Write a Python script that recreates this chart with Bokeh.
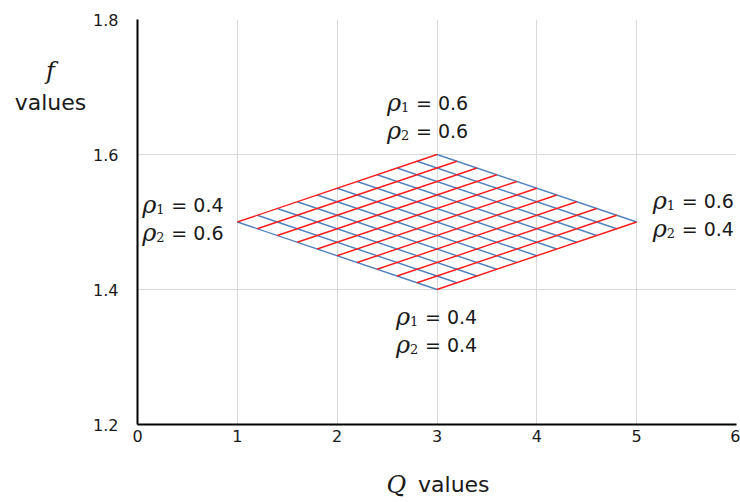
from bokeh.plotting import figure
from bokeh.layouts import row, column
from bokeh.models import ColumnDataSource, FixedTicker, Range1d
from bokeh.core.properties import value
from bokeh.embed import file_html
from bokeh.resources import INLINE

# ---------------- data ----------------
# red lines: constant rho2 (0.40 .. 0.60), running from rho1 = 0.4 to rho1 = 0.6
red_q_start = [3.0, 2.8, 2.6, 2.4, 2.2, 2.0, 1.8, 1.6, 1.4, 1.2, 1.0]
red_f_start = [1.40, 1.41, 1.42, 1.43, 1.44, 1.45, 1.46, 1.47, 1.48, 1.49, 1.50]
red_q_end = [5.0, 4.8, 4.6, 4.4, 4.2, 4.0, 3.8, 3.6, 3.4, 3.2, 3.0]
red_f_end = [1.50, 1.51, 1.52, 1.53, 1.54, 1.55, 1.56, 1.57, 1.58, 1.59, 1.60]

# blue lines: constant rho1 (0.40 .. 0.60), running from rho2 = 0.4 to rho2 = 0.6
blue_q_start = [3.0, 3.2, 3.4, 3.6, 3.8, 4.0, 4.2, 4.4, 4.6, 4.8, 5.0]
blue_f_start = [1.40, 1.41, 1.42, 1.43, 1.44, 1.45, 1.46, 1.47, 1.48, 1.49, 1.50]
blue_q_end = [1.0, 1.2, 1.4, 1.6, 1.8, 2.0, 2.2, 2.4, 2.6, 2.8, 3.0]
blue_f_end = [1.50, 1.51, 1.52, 1.53, 1.54, 1.55, 1.56, 1.57, 1.58, 1.59, 1.60]

# corners of the grid (top, left, right, bottom) and their labels
corner_q = [3.0, 1.0, 5.0, 3.0]
corner_f = [1.6, 1.5, 1.5, 1.4]
corner_rho1 = ["0.6", "0.4", "0.6", "0.4"]
corner_rho2 = ["0.6", "0.6", "0.4", "0.4"]

x_ticks = [0, 1, 2, 3, 4, 5, 6]
y_ticks = [1.2, 1.4, 1.6, 1.8]

x_title_symbol, x_title_word = "Q", "values"
y_title_symbol, y_title_word = "f", "values"

# ---------------- layout constants ----------------
label_dx = [-50, -95, 16, -41]      # px from corner to label left edge
label_dy1 = [-50, -15, -19, 29]     # px from corner to first line centre
line_gap = 28
LEFT_W, MAIN_W, MAIN_H, TOTAL_H = 90, 650, 455, 502
B_LEFT, B_RIGHT, B_TOP = 46, 4, 19
B_BOTTOM_MAIN = 31
X_RANGE, Y_RANGE = (0, 6), (1.2, 1.8)

TXT = "#1a1a1a"


def bare(fig):
    fig.outline_line_color = None
    fig.grid.visible = False
    fig.background_fill_color = "white"
    fig.border_fill_color = "white"
    return fig


# ---------------- main plot ----------------
p = figure(width=MAIN_W, height=MAIN_H, output_backend="svg", toolbar_location=None,
           x_range=Range1d(*X_RANGE), y_range=Range1d(*Y_RANGE),
           min_border_left=B_LEFT, min_border_right=B_RIGHT, min_border_top=B_TOP,
           min_border_bottom=B_BOTTOM_MAIN)
p.outline_line_color = None
p.background_fill_color = "white"
p.border_fill_color = "white"

for ax in (p.xaxis[0], p.yaxis[0]):
    ax.axis_line_color = "black"
    ax.axis_line_width = 2
    ax.major_tick_line_color = None
    ax.minor_tick_line_color = None
    ax.major_tick_out = 0
    ax.major_tick_in = 0
    ax.minor_tick_out = 0
    ax.major_label_text_font = "DejaVu Sans"
    ax.major_label_text_font_size = "16px"
    ax.major_label_text_color = TXT

p.xaxis.ticker = FixedTicker(ticks=x_ticks)
p.yaxis.ticker = FixedTicker(ticks=y_ticks)
p.xaxis.major_label_overrides = {t: str(t) for t in x_ticks}
p.yaxis.major_label_overrides = {t: f"{t:.1f}" for t in y_ticks}
p.xaxis.major_label_standoff = 5
p.yaxis.major_label_standoff = 19

p.xgrid.ticker = FixedTicker(ticks=x_ticks)
p.ygrid.ticker = FixedTicker(ticks=y_ticks)
p.grid.grid_line_color = "#d9d9d9"
p.grid.grid_line_width = 1

# grid of lines
p.segment(x0=blue_q_start, y0=blue_f_start, x1=blue_q_end, y1=blue_f_end,
          line_color="#4F81BD", line_width=1.4)
p.segment(x0=red_q_start, y0=red_f_start, x1=red_q_end, y1=red_f_end,
          line_color="#FF1A1A", line_width=1.4)

# corner labels
rows = dict(x=[], y=[], xo=[], yo=[], sub=[], subxo=[], subyo=[], val=[], valxo=[])
for i in range(4):
    for j, (idx, v) in enumerate((("1", corner_rho1[i]), ("2", corner_rho2[i]))):
        base = label_dy1[i] + j * line_gap - 2
        rows["x"].append(corner_q[i])
        rows["y"].append(corner_f[i])
        rows["xo"].append(label_dx[i])
        rows["yo"].append(base)
        rows["sub"].append(idx)
        rows["subxo"].append(label_dx[i] + 14)
        rows["subyo"].append(base + 4)
        rows["val"].append("= " + v)
        rows["valxo"].append(label_dx[i] + 29)
rows["rho"] = ["ρ"] * len(rows["x"])
src = ColumnDataSource(rows)

p.text(x="x", y="y", text="rho", x_offset="xo", y_offset="yo", source=src,
       text_font=value("DejaVu Serif"), text_font_style="italic",
       text_font_size="24px", text_baseline="alphabetic", text_align="left",
       text_color=TXT)
p.text(x="x", y="y", text="sub", x_offset="subxo", y_offset="subyo", source=src,
       text_font=value("DejaVu Serif"), text_font_size="13px",
       text_baseline="alphabetic", text_align="left", text_color=TXT)
p.text(x="x", y="y", text="val", x_offset="valxo", y_offset="yo", source=src,
       text_font=value("DejaVu Sans"), text_font_size="19px",
       text_baseline="alphabetic", text_align="left", text_color=TXT)

# ---------------- y title strip (left), same vertical scale as the plot ----------------
left = bare(figure(width=LEFT_W, height=TOTAL_H, output_backend="svg",
                   toolbar_location=None, x_range=Range1d(0, LEFT_W),
                   y_range=Range1d(*Y_RANGE), x_axis_location=None,
                   y_axis_location=None, min_border_left=0, min_border_right=0,
                   min_border_top=B_TOP, min_border_bottom=TOTAL_H - B_TOP - 405))
left.text(x=[50], y=[1.7234], text=[y_title_symbol], text_font=value("DejaVu Serif"),
          text_font_style="italic", text_font_size="24px", text_align="center",
          text_baseline="alphabetic", text_color=TXT)
left.text(x=[50], y=[1.6775], text=[y_title_word], text_font=value("DejaVu Sans"),
          text_font_size="22px", text_align="center", text_baseline="alphabetic",
          text_color=TXT)

# ---------------- x title strip (bottom), same horizontal scale as the plot ----------------
BOT_H = TOTAL_H - MAIN_H
bottom = bare(figure(width=MAIN_W, height=BOT_H, output_backend="svg",
                     toolbar_location=None, x_range=Range1d(*X_RANGE),
                     y_range=Range1d(BOT_H, 0), x_axis_location=None,
                     y_axis_location=None, min_border_left=B_LEFT,
                     min_border_right=B_RIGHT, min_border_top=0, min_border_bottom=0))
bottom.text(x=[2.69], y=[29], text=[x_title_symbol], text_font=value("DejaVu Serif"),
            text_font_style="italic", text_font_size="24px", text_align="right",
            text_baseline="alphabetic", text_color=TXT)
bottom.text(x=[2.81], y=[29], text=[x_title_word], text_font=value("DejaVu Sans"),
            text_font_size="22px", text_align="left", text_baseline="alphabetic",
            text_color=TXT)

layout = row(left, column(p, bottom, spacing=0), spacing=0)
open("out.html", "w").write(file_html(layout, INLINE))
